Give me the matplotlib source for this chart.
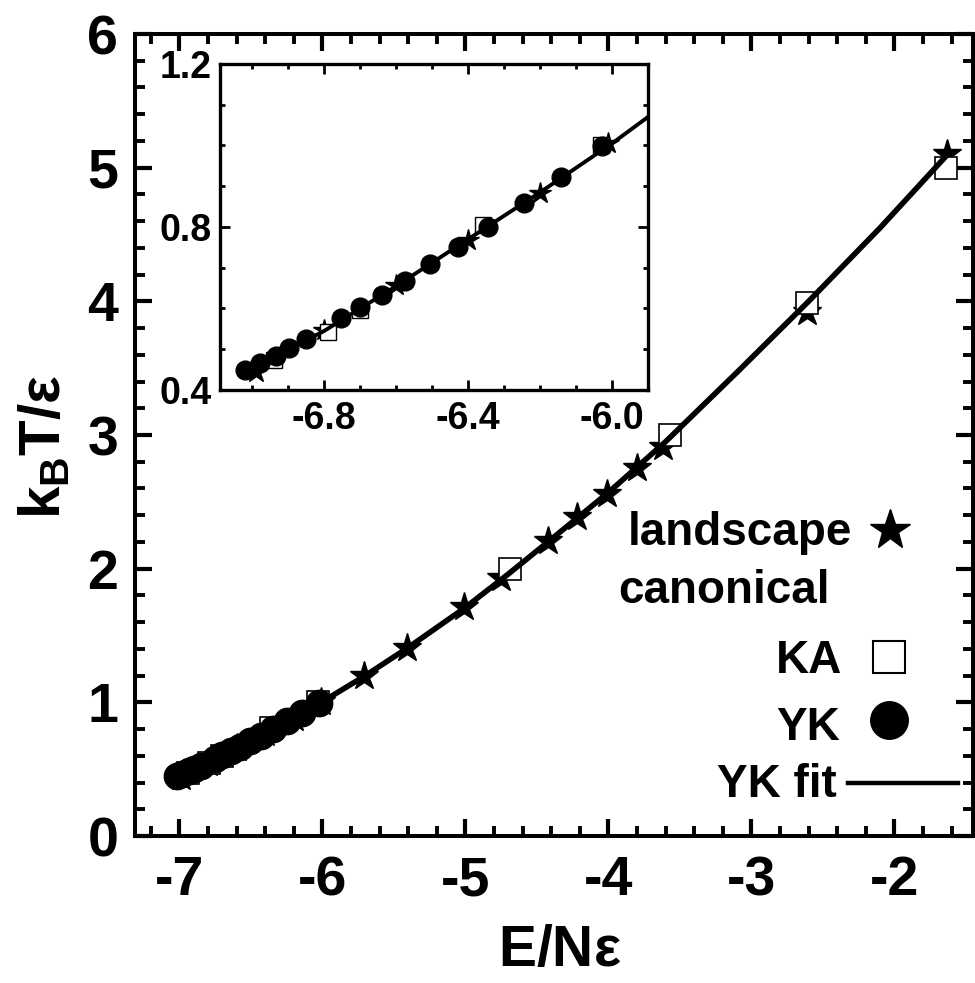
import matplotlib
matplotlib.use("Agg")
import matplotlib.pyplot as plt
from matplotlib.ticker import MultipleLocator, FormatStrFormatter

plt.rcParams['font.family'] = ['Liberation Sans', 'DejaVu Sans']
plt.rcParams['font.weight'] = 'bold'
plt.rcParams['axes.unicode_minus'] = False
plt.rcParams['mathtext.fontset'] = 'custom'
plt.rcParams['mathtext.rm'] = 'Liberation Sans'
plt.rcParams['mathtext.bf'] = 'Liberation Sans:bold'
plt.rcParams['mathtext.it'] = 'Liberation Sans:italic'

# landscape (stars)
land_E = [-6.99, -6.80, -6.60, -6.40, -6.20, -6.01, -5.71, -5.41, -5.01, -4.75,
          -4.42, -4.22, -4.01, -3.80, -3.62, -2.61, -1.63]
land_T = [0.445, 0.547, 0.658, 0.768, 0.883, 1.005, 1.20, 1.41, 1.71, 1.93,
          2.21, 2.39, 2.56, 2.75, 2.91, 3.92, 5.10]

# canonical KA (open squares)
ka_E = [-6.94, -6.79, -6.70, -6.36, -6.03, -4.69, -3.57, -2.61, -1.64]
ka_T = [0.474, 0.543, 0.596, 0.805, 1.0, 2.0, 3.0, 3.99, 5.0]

# canonical YK (filled circles)
yk_E = [-7.02, -6.98, -6.935, -6.897, -6.85, -6.754, -6.70, -6.639, -6.576,
        -6.505, -6.427, -6.344, -6.246, -6.143, -6.027]
yk_T = [0.449, 0.467, 0.483, 0.502, 0.525, 0.576, 0.603, 0.633, 0.668,
        0.708, 0.752, 0.799, 0.858, 0.922, 0.999]

# YK fit line
fit_E = [-7.03, -6.8, -6.6, -6.4, -6.2, -6.0, -5.9, -5.7, -5.4, -5.0, -4.7,
         -4.4, -4.0, -3.6, -3.1, -2.6, -2.1, -1.61]
fit_T = [0.44, 0.545, 0.655, 0.77, 0.885, 1.005, 1.07, 1.20, 1.41, 1.71, 1.96,
         2.22, 2.57, 2.95, 3.47, 4.00, 4.55, 5.12]

fig = plt.figure(figsize=(9.75, 9.83), dpi=100)
ax = fig.add_axes([0.1385, 0.1495, 0.8595, 0.8159])

ax.plot(land_E, land_T, ls='none', marker='*', ms=21, color='black', zorder=2)
ax.plot(ka_E, ka_T, ls='none', marker='s', ms=16, mfc='white', mec='black', mew=1.2, zorder=3)
ax.plot(fit_E, fit_T, color='black', lw=4, zorder=4)
ax.plot(yk_E, yk_T, ls='none', marker='o', ms=19, color='black', zorder=5)

ax.set_xlim(-7.31, -1.45)
ax.set_ylim(0, 6)
ax.xaxis.set_major_locator(MultipleLocator(1))
ax.xaxis.set_minor_locator(MultipleLocator(0.2))
ax.yaxis.set_major_locator(MultipleLocator(1))
ax.yaxis.set_minor_locator(MultipleLocator(0.2))
ax.xaxis.set_major_formatter(FormatStrFormatter('%d'))
ax.yaxis.set_major_formatter(FormatStrFormatter('%d'))
ax.tick_params(which='both', direction='in', top=True, right=True, labelsize=40)
ax.tick_params(which='major', length=12, width=3)
ax.tick_params(which='minor', length=7, width=2.8)
ax.tick_params(axis='x', which='major', pad=14)
ax.tick_params(axis='y', which='major', pad=12)
for sp in ax.spines.values():
    sp.set_linewidth(2.9)

ax.set_xlabel(r'$\mathbf{E/N}\mathrm{ε}$', fontsize=41)
ax.xaxis.set_label_coords(0.507, -0.11)
ax.set_ylabel(r'$\mathbf{k_BT/}\mathrm{ε}$', fontsize=42)
ax.yaxis.set_label_coords(-0.075, 0.485)

# legend drawn by hand
tr = ax.transAxes
ax.text(0.8556, 0.3628, 'landscape', transform=tr, ha='right', va='baseline', fontsize=33)
ax.plot([0.901], [0.3815], transform=tr, marker='*', ms=30, color='black', clip_on=False)
ax.text(0.829, 0.2905, 'canonical', transform=tr, ha='right', va='baseline', fontsize=33)
ax.text(0.8437, 0.2032, 'KA', transform=tr, ha='right', va='baseline', fontsize=33)
ax.plot([0.8998], [0.2232], transform=tr, marker='s', ms=23, mfc='white', mec='black', mew=1.5)
ax.text(0.841, 0.1197, 'YK', transform=tr, ha='right', va='baseline', fontsize=33)
ax.plot([0.8998], [0.1446], transform=tr, marker='o', ms=27, color='black')
ax.text(0.8377, 0.0486, 'YK fit', transform=tr, ha='right', va='baseline', fontsize=33)
ax.plot([0.8508, 0.982], [0.0661, 0.0661], transform=tr, color='black', lw=3.2)

# inset
ins = fig.add_axes([0.2256, 0.6033, 0.439, 0.3316])
ins.plot(land_E, land_T, ls='none', marker='*', ms=16, color='black', zorder=2)
ins.plot(ka_E, ka_T, ls='none', marker='s', ms=12, mfc='white', mec='black', mew=1, zorder=3)
ins.plot(fit_E, fit_T, color='black', lw=2.8, zorder=4)
ins.plot(yk_E, yk_T, ls='none', marker='o', ms=13.5, color='black', zorder=5)
ins.set_xlim(-7.09, -5.9)
ins.set_ylim(0.4, 1.2)
ins.xaxis.set_major_locator(MultipleLocator(0.4))
ins.xaxis.set_minor_locator(MultipleLocator(0.1))
ins.yaxis.set_major_locator(MultipleLocator(0.4))
ins.yaxis.set_minor_locator(MultipleLocator(0.1))
ins.xaxis.set_major_formatter(FormatStrFormatter('%.1f'))
ins.yaxis.set_major_formatter(FormatStrFormatter('%.1f'))
ins.tick_params(which='both', direction='in', top=True, right=True, labelsize=27)
ins.tick_params(which='major', length=7, width=2)
ins.tick_params(which='minor', length=3.5, width=2)
ins.tick_params(axis='x', which='major', pad=8)
ins.tick_params(axis='y', which='major', pad=6)
for sp in ins.spines.values():
    sp.set_linewidth(2.4)

fig.savefig('out.png', dpi=100)
plt.close(fig)
